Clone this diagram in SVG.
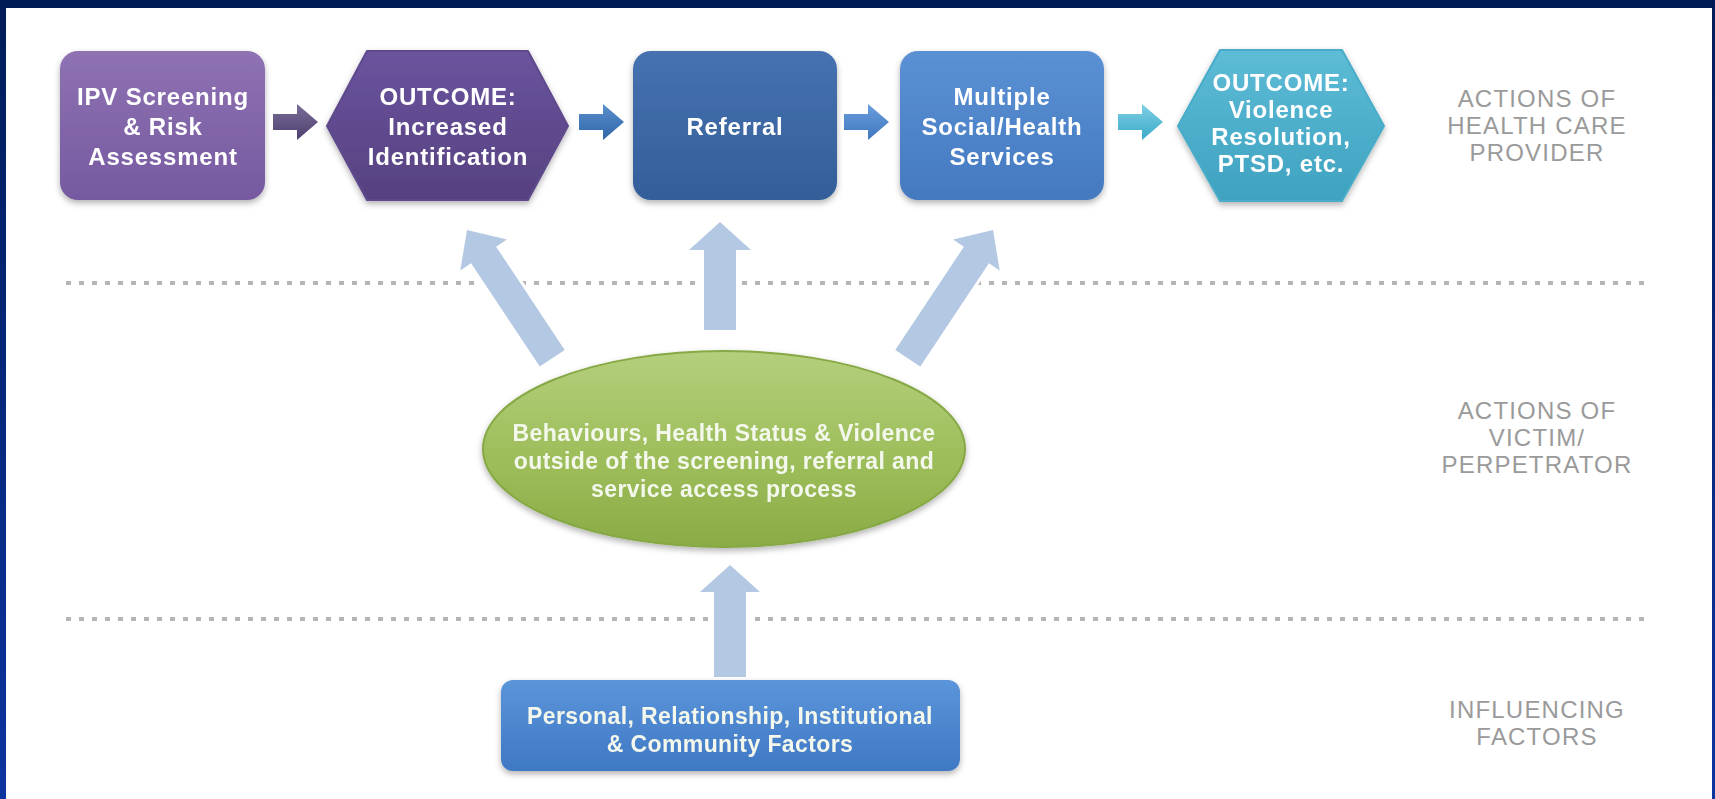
<svg xmlns="http://www.w3.org/2000/svg" width="1715" height="799" viewBox="0 0 1715 799">
  <defs>
    <style>
      .t { font-family: "Liberation Sans", Arial, sans-serif; font-weight: bold; font-size: 24px; fill: #ffffff; text-anchor: middle; letter-spacing: 0.8px; }
      .t2 { font-family: "Liberation Sans", Arial, sans-serif; font-weight: bold; font-size: 23px; fill: #f4f8ec; text-anchor: middle; letter-spacing: 0.4px; }
      .lane { font-family: "Liberation Sans", Arial, sans-serif; font-size: 24px; fill: #9a9a9a; text-anchor: middle; letter-spacing: 1.2px; }
      .dots { stroke: #b5b5b5; stroke-width: 4; stroke-dasharray: 5 8; fill: none; }
      .big { fill: #b3c8e2; stroke: #ffffff; stroke-width: 6; paint-order: stroke; stroke-linejoin: round; }
      .node { filter: url(#sh); }
    </style>
    <filter id="sh" x="-10%" y="-10%" width="120%" height="135%">
      <feDropShadow dx="0" dy="3" stdDeviation="3" flood-color="#000" flood-opacity="0.3"/>
    </filter>
    <linearGradient id="frame" x1="0" y1="0" x2="0" y2="1">
      <stop offset="0" stop-color="#001c58"/>
      <stop offset="1" stop-color="#0d34a0"/>
    </linearGradient>
    <linearGradient id="gPurple" x1="0" y1="0" x2="0" y2="1">
      <stop offset="0" stop-color="#8e72b2"/>
      <stop offset="1" stop-color="#7659a0"/>
    </linearGradient>
    <linearGradient id="gDPurple" x1="0" y1="0" x2="0" y2="1">
      <stop offset="0" stop-color="#6a549e"/>
      <stop offset="1" stop-color="#564180"/>
    </linearGradient>
    <linearGradient id="gNavy" x1="0" y1="0" x2="0" y2="1">
      <stop offset="0" stop-color="#4672b0"/>
      <stop offset="1" stop-color="#335e99"/>
    </linearGradient>
    <linearGradient id="gBlue" x1="0" y1="0" x2="0" y2="1">
      <stop offset="0" stop-color="#5b91d4"/>
      <stop offset="1" stop-color="#4479c0"/>
    </linearGradient>
    <linearGradient id="gCyan" x1="0" y1="0" x2="0" y2="1">
      <stop offset="0" stop-color="#5dbcd6"/>
      <stop offset="1" stop-color="#3ea2c0"/>
    </linearGradient>
    <linearGradient id="gGreen" x1="0" y1="0" x2="0" y2="1">
      <stop offset="0" stop-color="#b4cf7c"/>
      <stop offset="0.6" stop-color="#9bbc58"/>
      <stop offset="1" stop-color="#8aab45"/>
    </linearGradient>
    <linearGradient id="gBox" x1="0" y1="0" x2="0" y2="1">
      <stop offset="0" stop-color="#5b95da"/>
      <stop offset="1" stop-color="#3f78c4"/>
    </linearGradient>
    <linearGradient id="aPurple" x1="0" y1="0" x2="0" y2="1">
      <stop offset="0" stop-color="#7a6e98"/>
      <stop offset="1" stop-color="#4d3f6e"/>
    </linearGradient>
    <linearGradient id="aBlue" x1="0" y1="0" x2="0" y2="1">
      <stop offset="0" stop-color="#5b90cf"/>
      <stop offset="1" stop-color="#2f64a6"/>
    </linearGradient>
    <linearGradient id="aBlue2" x1="0" y1="0" x2="0" y2="1">
      <stop offset="0" stop-color="#6a9ede"/>
      <stop offset="1" stop-color="#3f76bd"/>
    </linearGradient>
    <linearGradient id="aCyan" x1="0" y1="0" x2="0" y2="1">
      <stop offset="0" stop-color="#7fd0e4"/>
      <stop offset="1" stop-color="#3aa9c8"/>
    </linearGradient>
    <!-- small block arrow, pointing right, origin at left end / vertical centre -->
    <path id="blk" d="M0,-8 L24,-8 L24,-18 L45,0 L24,18 L24,8 L0,8 Z"/>
  </defs>

  <!-- page and frame -->
  <rect x="0" y="0" width="1715" height="799" fill="#ffffff"/>
  <rect x="0" y="0" width="6" height="799" fill="url(#frame)"/>
  <rect x="1712" y="0" width="3" height="799" fill="url(#frame)"/>
  <rect x="0" y="0" width="1715" height="8" fill="#001c58"/>

  <!-- lane separators -->
  <line class="dots" x1="66" y1="283" x2="1652" y2="283"/>
  <line class="dots" x1="66" y1="619" x2="1652" y2="619"/>

  <!-- lane titles -->
  <g id="lane-provider">
    <text class="lane" x="1537" y="107">ACTIONS OF</text>
    <text class="lane" x="1537" y="134">HEALTH CARE</text>
    <text class="lane" x="1537" y="161">PROVIDER</text>
  </g>
  <g id="lane-victim">
    <text class="lane" x="1537" y="419">ACTIONS OF</text>
    <text class="lane" x="1537" y="446">VICTIM/</text>
    <text class="lane" x="1537" y="473">PERPETRATOR</text>
  </g>
  <g id="lane-factors">
    <text class="lane" x="1537" y="718">INFLUENCING</text>
    <text class="lane" x="1537" y="745">FACTORS</text>
  </g>

  <!-- connectors -->
  <g id="connectors">
    <use href="#blk" transform="translate(273,122)" fill="url(#aPurple)"/>
    <use href="#blk" transform="translate(579,122)" fill="url(#aBlue)"/>
    <use href="#blk" transform="translate(844,122)" fill="url(#aBlue2)"/>
    <use href="#blk" transform="translate(1118,122)" fill="url(#aCyan)"/>
    <!-- influence arrows from the green ellipse up to the provider row -->
    <path class="big" transform="translate(467,230) rotate(-33.6)" d="M0,0 L28,30 L15,30 L15,154 L-15,154 L-15,30 L-28,30 Z"/>
    <path class="big" transform="translate(720,222)" d="M0,0 L31,28 L16,28 L16,108 L-16,108 L-16,28 L-31,28 Z"/>
    <path class="big" transform="translate(993,230) rotate(33.6)" d="M0,0 L28,30 L15,30 L15,154 L-15,154 L-15,30 L-28,30 Z"/>
    <!-- factors up to the ellipse -->
    <path class="big" transform="translate(730,565)" d="M0,0 L30,27 L16,27 L16,112 L-16,112 L-16,27 L-30,27 Z"/>
  </g>

  <!-- provider row -->
  <g id="screening" class="node">
    <rect x="60" y="51" width="205" height="149" rx="18" fill="url(#gPurple)"/>
    <text class="t" x="163" y="105">IPV Screening</text>
    <text class="t" x="163" y="135">&amp; Risk</text>
    <text class="t" x="163" y="165">Assessment</text>
  </g>
  <g id="outcome-identification" class="node">
    <path d="M327,126 L367,51 L528,51 L568,126 L528,200 L367,200 Z" fill="url(#gDPurple)" stroke="#5e4a8c" stroke-width="2" stroke-linejoin="round"/>
    <text class="t" x="448" y="105">OUTCOME:</text>
    <text class="t" x="448" y="135">Increased</text>
    <text class="t" x="448" y="165">Identification</text>
  </g>
  <g id="referral" class="node">
    <rect x="633" y="51" width="204" height="149" rx="18" fill="url(#gNavy)"/>
    <text class="t" x="735" y="135">Referral</text>
  </g>
  <g id="services" class="node">
    <rect x="900" y="51" width="204" height="149" rx="18" fill="url(#gBlue)"/>
    <text class="t" x="1002" y="105">Multiple</text>
    <text class="t" x="1002" y="135">Social/Health</text>
    <text class="t" x="1002" y="165">Services</text>
  </g>
  <g id="outcome-resolution" class="node">
    <path d="M1178,126 L1220,50 L1342,50 L1384,126 L1342,201 L1220,201 Z" fill="url(#gCyan)" stroke="#48acc8" stroke-width="2" stroke-linejoin="round"/>
    <text class="t" x="1281" y="91">OUTCOME:</text>
    <text class="t" x="1281" y="118">Violence</text>
    <text class="t" x="1281" y="145">Resolution,</text>
    <text class="t" x="1281" y="172">PTSD, etc.</text>
  </g>

  <!-- victim / perpetrator row -->
  <g id="behaviours" class="node">
    <ellipse cx="724" cy="449" rx="241" ry="98" fill="url(#gGreen)" stroke="#86a844" stroke-width="2"/>
    <text class="t2" x="724" y="441">Behaviours, Health Status &amp; Violence</text>
    <text class="t2" x="724" y="469">outside of the screening, referral and</text>
    <text class="t2" x="724" y="497">service access process</text>
  </g>

  <!-- influencing factors row -->
  <g id="factors" class="node">
    <rect x="501" y="680" width="459" height="91" rx="12" fill="url(#gBox)"/>
    <text class="t2" x="730" y="724" fill="#ffffff">Personal, Relationship, Institutional</text>
    <text class="t2" x="730" y="752" fill="#ffffff">&amp; Community Factors</text>
  </g>
</svg>
